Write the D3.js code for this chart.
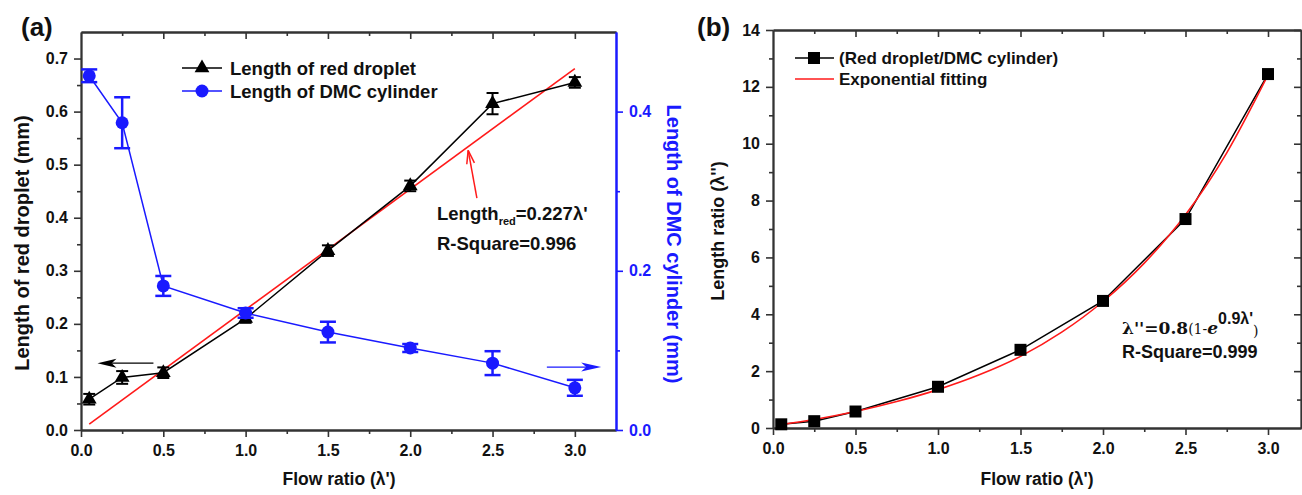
<!DOCTYPE html>
<html>
<head>
<meta charset="utf-8">
<script src="https://cdn.jsdelivr.net/npm/d3@7"></script>
<style>
  html, body { margin: 0; padding: 0; background: #fff; }
  svg { display: block; }
  text { font-family: "Liberation Sans", Arial, sans-serif; font-weight: bold; }
</style>
</head>
<body>
<svg id="chart" width="1302" height="495"></svg>
<script>
// ---------------- DATA ----------------
const flowRatio = [0.05, 0.25, 0.5, 1.0, 1.5, 2.0, 2.5, 3.0];

// Panel (a)
const redDropletLen = [0.058, 0.099, 0.108, 0.210, 0.338, 0.460, 0.615, 0.655];
const redDropletErr = [0.010, 0.012, 0.010, 0.008, 0.010, 0.010, 0.020, 0.010];
const dmcCylLen     = [0.445, 0.386, 0.181, 0.147, 0.123, 0.103, 0.084, 0.053];
const dmcCylErr     = [0.008, 0.032, 0.0125, 0.006, 0.013, 0.005, 0.015, 0.010];
const fitA_x = [0.05, 3.0];
const fitA_y = [0.011, 0.681];

// Panel (b)
const lengthRatio = [0.13, 0.24, 0.58, 1.45, 2.75, 4.47, 7.35, 12.45];
const fitB_x = [0.05, 0.25, 0.5, 0.75, 1.0, 1.25, 1.5, 1.75, 2.0, 2.25, 2.5, 2.75, 3.0];
const fitB_y = [0.12, 0.30, 0.58, 0.93, 1.35, 1.87, 2.52, 3.37, 4.45, 5.80, 7.50, 9.68, 12.42];

// Ticks
const xMajorTicks = [0, 0.5, 1.0, 1.5, 2.0, 2.5, 3.0];
const xMinorTicks = [0.25, 0.75, 1.25, 1.75, 2.25, 2.75];
const yA_major = [0, 0.1, 0.2, 0.3, 0.4, 0.5, 0.6, 0.7];
const yA_minor = [0.05, 0.15, 0.25, 0.35, 0.45, 0.55, 0.65];
const yA2_major = [0, 0.2, 0.4];
const yA2_minor = [0.1, 0.3];
const yB_major = [0, 2, 4, 6, 8, 10, 12, 14];
const yB_minor = [1, 3, 5, 7, 9, 11, 13];

// Legend / labels
const legendA = ["Length of red droplet", "Length of DMC cylinder"];
const legendB = ["(Red droplet/DMC cylinder)", "Exponential fitting"];

// ---------------- STYLE ----------------
const BLUE = "#1a1aff", RED = "#ff1a1a", BLACK = "#000", AXIS = "#333", TXT = "#111";

const svg = d3.select("#chart");

// ---------------- SCALES ----------------
const xA = d3.scaleLinear().domain([0, 3.25]).range([81, 616]);
const yA = d3.scaleLinear().domain([0, 0.75]).range([430, 32]);
const yA2 = d3.scaleLinear().domain([0, 0.5]).range([430, 32]);
const xB = d3.scaleLinear().domain([0, 3.2]).range([773, 1301]);
const yB = d3.scaleLinear().domain([0, 14]).range([428, 30]);

function styleAxis(g, color) {
  g.selectAll("path.domain").attr("stroke", color).attr("stroke-width", 1.8);
  g.selectAll(".tick line").attr("stroke", color).attr("stroke-width", 1.6);
  g.selectAll(".tick text").attr("fill", color === AXIS ? TXT : color)
    .style("font-family", '"Liberation Sans", Arial, sans-serif')
    .style("font-weight", "bold").style("font-size", "16px");
}

function drawAxes(x, y, x0, x1, y0, y1, yTicksMaj, yTicksMin, yFmt, rightAxis) {
  const gb = svg.append("g").attr("transform", `translate(0,${y0})`)
    .call(d3.axisBottom(x).tickValues(xMajorTicks).tickFormat(d3.format(".1f")).tickSizeInner(7).tickSizeOuter(0).tickPadding(8));
  styleAxis(gb, AXIS);
  const gbm = svg.append("g").attr("transform", `translate(0,${y0})`)
    .call(d3.axisBottom(x).tickValues(xMinorTicks).tickFormat("").tickSizeInner(4).tickSizeOuter(0));
  styleAxis(gbm, AXIS);
  const gt = svg.append("g").attr("transform", `translate(0,${y1})`)
    .call(d3.axisTop(x).tickValues(xMajorTicks.filter(d => d > 0)).tickFormat("").tickSizeInner(-7).tickSizeOuter(0));
  styleAxis(gt, AXIS);
  const gtm = svg.append("g").attr("transform", `translate(0,${y1})`)
    .call(d3.axisTop(x).tickValues(xMinorTicks).tickFormat("").tickSizeInner(-4).tickSizeOuter(0));
  styleAxis(gtm, AXIS);
  const gl = svg.append("g").attr("transform", `translate(${x0},0)`)
    .call(d3.axisLeft(y).tickValues(yTicksMaj).tickFormat(yFmt).tickSizeInner(7).tickSizeOuter(0).tickPadding(6));
  styleAxis(gl, AXIS);
  const glm = svg.append("g").attr("transform", `translate(${x0},0)`)
    .call(d3.axisLeft(y).tickValues(yTicksMin).tickFormat("").tickSizeInner(4).tickSizeOuter(0));
  styleAxis(glm, AXIS);
  if (rightAxis) {
    const gr = svg.append("g").attr("transform", `translate(${x1},0)`)
      .call(d3.axisRight(y).tickValues(yTicksMaj.filter(d => d > 0)).tickFormat("").tickSizeInner(-7).tickSizeOuter(0));
    styleAxis(gr, AXIS);
    const grm = svg.append("g").attr("transform", `translate(${x1},0)`)
      .call(d3.axisRight(y).tickValues(yTicksMin).tickFormat("").tickSizeInner(-4).tickSizeOuter(0));
    styleAxis(grm, AXIS);
  }
}

// ---------------- PANEL (a) ----------------
drawAxes(xA, yA, 81, 616, 430, 32, yA_major, yA_minor, d3.format(".1f"), false);
const gRA = svg.append("g").attr("transform", "translate(616,0)")
  .call(d3.axisRight(yA2).tickValues(yA2_major).tickFormat(d3.format(".1f")).tickSizeInner(7).tickSizeOuter(0).tickPadding(6));
styleAxis(gRA, BLUE);
gRA.select("path.domain").attr("stroke-width", 2);
const gRAm = svg.append("g").attr("transform", "translate(616,0)")
  .call(d3.axisRight(yA2).tickValues(yA2_minor).tickFormat("").tickSizeInner(4).tickSizeOuter(0));
styleAxis(gRAm, BLUE);
gRAm.select("path.domain").attr("stroke-width", 2);

// fit line (red)
const fitA = fitA_x.map((d, i) => [d, fitA_y[i]]);
svg.append("path").datum(fitA)
  .attr("d", d3.line().x(d => xA(d[0])).y(d => yA(d[1])))
  .attr("fill", "none").attr("stroke", RED).attr("stroke-width", 1.6);

// black series
const redSeries = flowRatio.map((x, i) => ({ x, y: redDropletLen[i], e: redDropletErr[i] }));
svg.append("path").datum(redSeries)
  .attr("d", d3.line().x(d => xA(d.x)).y(d => yA(d.y)))
  .attr("fill", "none").attr("stroke", BLACK).attr("stroke-width", 1.5);
const ebA = svg.append("g").attr("stroke", BLACK).attr("stroke-width", 2);
redSeries.forEach(d => {
  const cx = xA(d.x), t = yA(d.y + d.e), b = yA(d.y - d.e);
  ebA.append("line").attr("x1", cx).attr("x2", cx).attr("y1", t).attr("y2", b);
  ebA.append("line").attr("x1", cx - 6).attr("x2", cx + 6).attr("y1", t).attr("y2", t);
  ebA.append("line").attr("x1", cx - 6).attr("x2", cx + 6).attr("y1", b).attr("y2", b);
});
const tri = d3.symbol().type(d3.symbolTriangle).size(95);
svg.append("g").selectAll("path").data(redSeries).join("path")
  .attr("d", tri).attr("transform", d => `translate(${xA(d.x)},${yA(d.y)})`)
  .attr("fill", BLACK);

// blue series
const dmcSeries = flowRatio.map((x, i) => ({ x, y: dmcCylLen[i], e: dmcCylErr[i] }));
svg.append("path").datum(dmcSeries)
  .attr("d", d3.line().x(d => xA(d.x)).y(d => yA2(d.y)))
  .attr("fill", "none").attr("stroke", BLUE).attr("stroke-width", 1.5);
const ebB = svg.append("g").attr("stroke", BLUE).attr("stroke-width", 2.5);
dmcSeries.forEach(d => {
  const cx = xA(d.x), t = yA2(d.y + d.e), b = yA2(d.y - d.e);
  ebB.append("line").attr("x1", cx).attr("x2", cx).attr("y1", t).attr("y2", b);
  ebB.append("line").attr("x1", cx - 8).attr("x2", cx + 8).attr("y1", t).attr("y2", t);
  ebB.append("line").attr("x1", cx - 8).attr("x2", cx + 8).attr("y1", b).attr("y2", b);
});
svg.append("g").selectAll("circle").data(dmcSeries).join("circle")
  .attr("cx", d => xA(d.x)).attr("cy", d => yA2(d.y)).attr("r", 6.5)
  .attr("fill", BLUE);

// direction arrows
function arrow(x1, y1, x2, y2, color, headLen, headW, width) {
  const ang = Math.atan2(y2 - y1, x2 - x1);
  const g = svg.append("g");
  const bx = x2 - headLen * 0.75 * Math.cos(ang), by = y2 - headLen * 0.75 * Math.sin(ang);
  g.append("line").attr("x1", x1).attr("y1", y1).attr("x2", bx).attr("y2", by)
    .attr("stroke", color).attr("stroke-width", width);
  const px = -Math.sin(ang), py = Math.cos(ang);
  const hx = x2 - headLen * Math.cos(ang), hy = y2 - headLen * Math.sin(ang);
  const pts = [[x2, y2], [hx + px * headW / 2, hy + py * headW / 2], [bx, by], [hx - px * headW / 2, hy - py * headW / 2]];
  g.append("path").attr("d", "M" + pts.map(p => p.join(",")).join("L") + "Z").attr("fill", color);
}
arrow(xA(0.44), yA(0.126), xA(0.10), yA(0.126), BLACK, 19, 9, 1.4);
arrow(xA(2.83), yA2(0.079), xA(3.16), yA2(0.079), BLUE, 20, 9, 1.4);

// red annotation arrow (open head)
(function () {
  const x1 = xA(2.405), y1 = yA(0.437), x2 = xA(2.352), y2 = yA(0.527);
  svg.append("line").attr("x1", x1).attr("y1", y1).attr("x2", x2).attr("y2", y2)
    .attr("stroke", RED).attr("stroke-width", 1.5);
  const ang = Math.atan2(y2 - y1, x2 - x1), L = 14, spread = 0.28;
  [ang + Math.PI - spread, ang + Math.PI + spread].forEach(a => {
    svg.append("line").attr("x1", x2).attr("y1", y2)
      .attr("x2", x2 + L * Math.cos(a)).attr("y2", y2 + L * Math.sin(a))
      .attr("stroke", RED).attr("stroke-width", 1.5);
  });
})();

// annotation text (a)
const annA = svg.append("text").attr("x", 437).attr("y", 220).style("font-size", "18.5px").attr("fill", TXT);
annA.append("tspan").text("Length");
annA.append("tspan").attr("dy", 5).style("font-size", "11px").text("red");
annA.append("tspan").attr("dy", -5).text("=0.227λ'");
svg.append("text").attr("x", 437).attr("y", 250).style("font-size", "18.5px").attr("fill", TXT).text("R-Square=0.996");

// legend (a)
[0, 1].forEach(i => {
  const ly = 68 + i * 23, col = i === 0 ? BLACK : BLUE;
  svg.append("line").attr("x1", 182).attr("x2", 222).attr("y1", ly).attr("y2", ly).attr("stroke", col).attr("stroke-width", 1.5);
  if (i === 0) svg.append("path").attr("d", tri).attr("transform", `translate(202,${ly})`).attr("fill", BLACK);
  else svg.append("circle").attr("cx", 202).attr("cy", ly).attr("r", 6.5).attr("fill", BLUE);
  svg.append("text").attr("x", 230).attr("y", ly + 6.5).style("font-size", "18.5px").attr("fill", TXT).text(legendA[i]);
});

// axis titles (a)
svg.append("text").attr("transform", "translate(29,243) rotate(-90)").attr("text-anchor", "middle")
  .style("font-size", "20px").attr("fill", TXT).text("Length of red droplet (mm)");
svg.append("text").attr("transform", "translate(667,244) rotate(90)").attr("text-anchor", "middle")
  .style("font-size", "20px").attr("fill", BLUE).text("Length of DMC cylinder (mm)");
svg.append("text").attr("x", 339).attr("y", 485).attr("text-anchor", "middle")
  .style("font-size", "17.5px").attr("fill", TXT).text("Flow ratio (λ')");
svg.append("text").attr("x", 21).attr("y", 36).style("font-size", "26px").attr("fill", TXT).text("(a)");

// ---------------- PANEL (b) ----------------
drawAxes(xB, yB, 773, 1301, 428, 30, yB_major, yB_minor, d3.format("d"), true);

const fitB = fitB_x.map((d, i) => [d, fitB_y[i]]);
const ratioSeries = flowRatio.map((x, i) => ({ x, y: lengthRatio[i] }));
svg.append("path").datum(ratioSeries)
  .attr("d", d3.line().x(d => xB(d.x)).y(d => yB(d.y)))
  .attr("fill", "none").attr("stroke", BLACK).attr("stroke-width", 1.5);
svg.append("path").datum(fitB)
  .attr("d", d3.line().curve(d3.curveMonotoneX).x(d => xB(d[0])).y(d => yB(d[1])))
  .attr("fill", "none").attr("stroke", RED).attr("stroke-width", 1.6);
const sq = d3.symbol().type(d3.symbolSquare).size(144);
svg.append("g").selectAll("path").data(ratioSeries).join("path")
  .attr("d", sq).attr("transform", d => `translate(${xB(d.x)},${yB(d.y)})`)
  .attr("fill", BLACK);

// legend (b)
[0, 1].forEach(i => {
  const ly = 58 + i * 21, col = i === 0 ? BLACK : RED;
  svg.append("line").attr("x1", 795).attr("x2", 834).attr("y1", ly).attr("y2", ly).attr("stroke", col).attr("stroke-width", 1.5);
  if (i === 0) svg.append("path").attr("d", sq).attr("transform", `translate(814,${ly})`).attr("fill", BLACK);
  svg.append("text").attr("x", 839).attr("y", ly + 6).style("font-size", "17px").attr("fill", TXT).text(legendB[i]);
});

// annotation (b)
const SERIF = '"DejaVu Serif", "Liberation Serif", serif';
const annB = svg.append("text").attr("x", 1122).attr("y", 334).attr("fill", TXT);
annB.append("tspan").style("font-family", SERIF).style("font-size", "17px").text("λ''=0.8");
annB.append("tspan").style("font-family", SERIF).style("font-size", "14px").style("font-weight", "normal").text("(1-");
annB.append("tspan").style("font-family", SERIF).style("font-size", "17px").style("font-style", "italic").text("e");
annB.append("tspan").attr("dy", -10).style("font-size", "16px").text("0.9λ'");
annB.append("tspan").attr("dy", 12).style("font-family", SERIF).style("font-size", "14px").style("font-weight", "normal").text(")");
svg.append("text").attr("x", 1122).attr("y", 358).style("font-size", "18px").attr("fill", TXT).text("R-Square=0.999");

// axis titles (b)
svg.append("text").attr("transform", "translate(724,231) rotate(-90)").attr("text-anchor", "middle")
  .style("font-size", "18px").attr("fill", TXT).text("Length ratio (λ'')");
svg.append("text").attr("x", 1037).attr("y", 485).attr("text-anchor", "middle")
  .style("font-size", "17.5px").attr("fill", TXT).text("Flow ratio (λ')");
svg.append("text").attr("x", 697).attr("y", 36).style("font-size", "26px").attr("fill", TXT).text("(b)");
</script>
</body>
</html>
